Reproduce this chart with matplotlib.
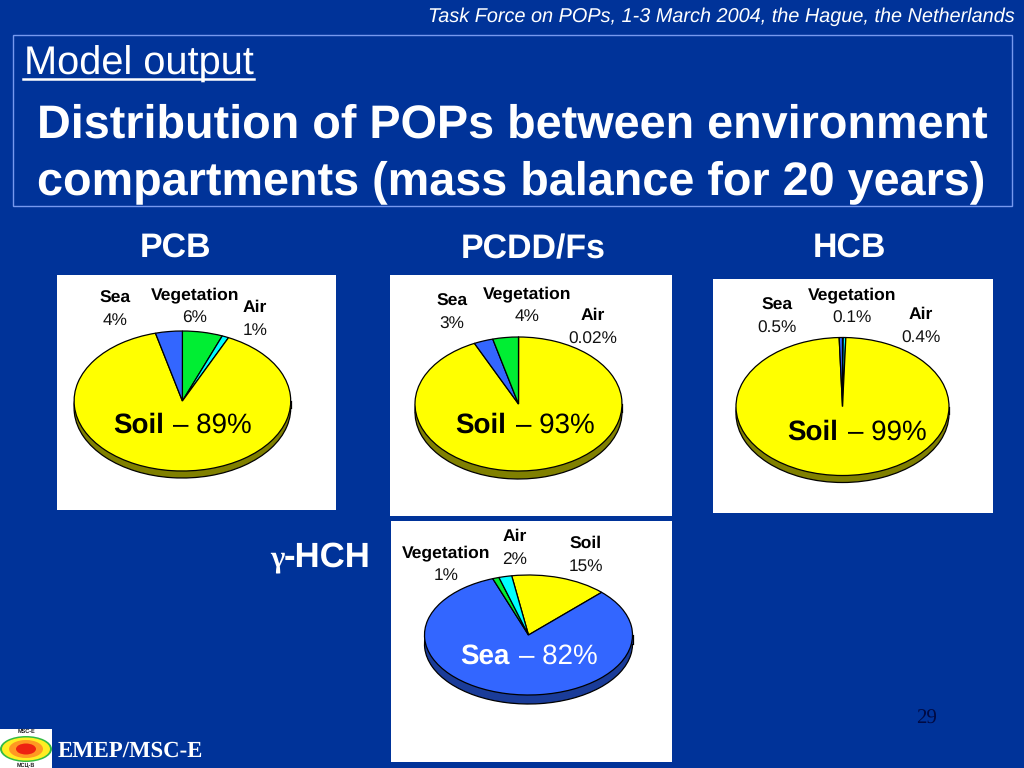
#!/usr/bin/env python
import matplotlib
matplotlib.use('Agg')
import matplotlib.pyplot as plt
from matplotlib.patches import Rectangle, Ellipse

BG = '#003399'
SOIL = '#ffff00'
SEA = '#3366ff'
VEG = '#00ee33'
AIR = '#00ffff'
DARK = {SOIL: '#808000', SEA: '#1a3c99', VEG: '#007a1a', AIR: '#008080'}

# slices in drawing order, clockwise from start angle
pcb_names = ['Vegetation', 'Air', 'Soil', 'Sea']
pcb_vals = [6, 1, 89, 4]
pcdd_names = ['Air', 'Soil', 'Sea', 'Vegetation']
pcdd_vals = [0.02, 93, 3, 4]
hcb_names = ['Vegetation', 'Air', 'Soil', 'Sea']
hcb_vals = [0.1, 0.4, 99, 0.5]
hch_names = ['Soil', 'Sea', 'Vegetation', 'Air']
hch_vals = [15, 82, 1, 2]
colors = {'Soil': SOIL, 'Sea': SEA, 'Vegetation': VEG, 'Air': AIR}

plt.rcParams['font.family'] = ['Liberation Sans', 'DejaVu Sans']
plt.rcParams['text.hinting'] = 'no_hinting'
fig = plt.figure(figsize=(10.24, 7.68), dpi=100, facecolor=BG)


def px_axes(z):
    a = fig.add_axes([0, 0, 1, 1], zorder=z)
    a.set_xlim(0, 1024)
    a.set_ylim(768, 0)
    a.axis('off')
    return a


bg = px_axes(0)
top = px_axes(10)


def pie3d(names, vals, start, cx, cy, rx, ry, depth):
    ax = fig.add_axes([(cx - rx * 1.1) / 1024, 1 - (cy + ry * 1.1 + depth) / 768,
                       rx * 2.2 / 1024, (ry * 2.2 + depth) / 768], zorder=5)
    cols = [colors[n] for n in names]
    d = depth / ry
    edge = {'edgecolor': 'black', 'linewidth': 0.9}
    ax.pie(vals, colors=[DARK[c] for c in cols], startangle=start, counterclock=False,
           center=(0, -d), wedgeprops=edge, normalize=True)
    main = DARK[cols[vals.index(max(vals))]]
    ax.add_patch(Rectangle((-1, -d), 2, d, facecolor=main, edgecolor='none', zorder=2))
    ax.plot([-1, -1], [-d, 0], color='black', lw=0.9, zorder=2)
    ax.plot([1, 1], [-d, 0], color='black', lw=0.9, zorder=2)
    wedges, _ = ax.pie(vals, colors=cols, startangle=start, counterclock=False,
                       wedgeprops=edge, normalize=True)
    for w in wedges:
        w.set_zorder(3)
    ax.set_aspect('auto')
    ax.set_xlim(-1.1, 1.1)
    ax.set_ylim(-1.1 - d, 1.1)
    ax.axis('off')


def white_box(x0, y0, x1, y1):
    bg.add_patch(Rectangle((x0, y0), x1 - x0, y1 - y0, facecolor='white', edgecolor='none'))


def label(x, y, name, val):
    top.text(x, y + 1, name, fontsize=12.6, fontweight='bold', color='black', ha='center', va='center')
    top.text(x, y + 24, val, fontsize=12.4, color='#111111', ha='center', va='center')


def big(x0, x1, y, name, val, c='black'):
    top.text(x0, y, name, fontsize=20, fontweight='bold', color=c, ha='left', va='center_baseline')
    top.text(x1, y, val, fontsize=20, color=c, ha='right', va='center_baseline')


# header
top.text(1015, 17, 'Task Force on POPs, 1-3 March 2004, the Hague, the Netherlands',
         fontsize=14.3, style='italic', color='white', ha='right', va='center')
bg.add_patch(Rectangle((12.5, 34.5), 999.5, 171, facecolor='none', edgecolor='#7799ee', lw=1))
top.text(24, 75, 'Model output', fontsize=28.6, color='white', ha='left', va='baseline')
top.plot([23, 254], [79, 79], color='white', lw=1.8)
top.text(37, 138, 'Distribution of POPs between environment', fontsize=33.7, fontweight='bold',
         color='white', ha='left', va='baseline')
top.text(37, 194, 'compartments (mass balance for 20 years)', fontsize=33.7, fontweight='bold',
         color='white', ha='left', va='baseline')

for x, t in [(175, 'PCB'), (533, 'PCDD/Fs'), (849, 'HCB')]:
    top.text(x, 258, t, fontsize=24.4, fontweight='bold', color='white', ha='center', va='baseline')
top.text(270, 566, '\u03b3', fontsize=22, fontweight='bold', color='white', ha='left', va='baseline',
         family=['Liberation Serif', 'DejaVu Serif'])
top.text(284, 567, '-HCH', fontsize=25, fontweight='bold', color='white', ha='left', va='baseline')

# pies
white_box(57, 275, 336, 510)
pie3d(pcb_names, pcb_vals, 90, 182.4, 401, 108.3, 70, 7)
label(115, 297, 'Sea', '4%')
label(195, 294, 'Vegetation', '6%')
label(255, 307, 'Air', '1%')
big(113, 252, 423, 'Soil', '\u2013 89%')

white_box(390, 275, 672, 516)
pie3d(pcdd_names, pcdd_vals, 90, 518.5, 404, 103.5, 67, 8)
label(452, 300, 'Sea', '3%')
label(527, 293, 'Vegetation', '4%')
label(593, 315, 'Air', '0.02%')
big(455, 595, 423, 'Soil', '\u2013 93%')

white_box(713, 279, 993, 513)
pie3d(hcb_names, hcb_vals, 90, 842.5, 406.5, 106.5, 69, 7)
label(777, 304, 'Sea', '0.5%')
label(852, 294, 'Vegetation', '0.1%')
label(921, 314, 'Air', '0.4%')
big(787, 927, 430, 'Soil', '\u2013 99%')

white_box(391, 521, 672, 762)
pie3d(hch_names, hch_vals, 99.3, 528.5, 635, 104, 60, 9)
label(446, 552, 'Vegetation', '1%')
label(515, 536, 'Air', '2%')
label(586, 542, 'Soil', '15%')
big(460, 598, 654, 'Sea', '\u2013 82%', 'white')

# footer
white_box(0, 729, 52, 768)
for w, h, c in [(52, 26, '#33bb44'), (48, 23, '#ffee22'), (34, 18, '#ff9922'), (20, 11, '#ee2211')]:
    bg.add_patch(Ellipse((26, 749), w, h, facecolor=c, edgecolor='none'))
top.text(26, 731.5, 'MSC-E', fontsize=4, fontweight='bold', color='#222222', ha='center', va='center')
top.text(26, 765, '\u041c\u0421\u0426-\u0412', fontsize=4, fontweight='bold', color='#222222', ha='center', va='center')
top.text(58, 751, 'EMEP/MSC-E', fontsize=16.4, fontweight='bold', color='white', ha='left', va='center',
         family=['Liberation Serif', 'DejaVu Serif'])
top.text(927, 719, '29', fontsize=15, color='#000a44', ha='center', va='center',
         family=['Liberation Serif', 'DejaVu Serif'])

fig.savefig('out.png', dpi=100, facecolor=BG)
